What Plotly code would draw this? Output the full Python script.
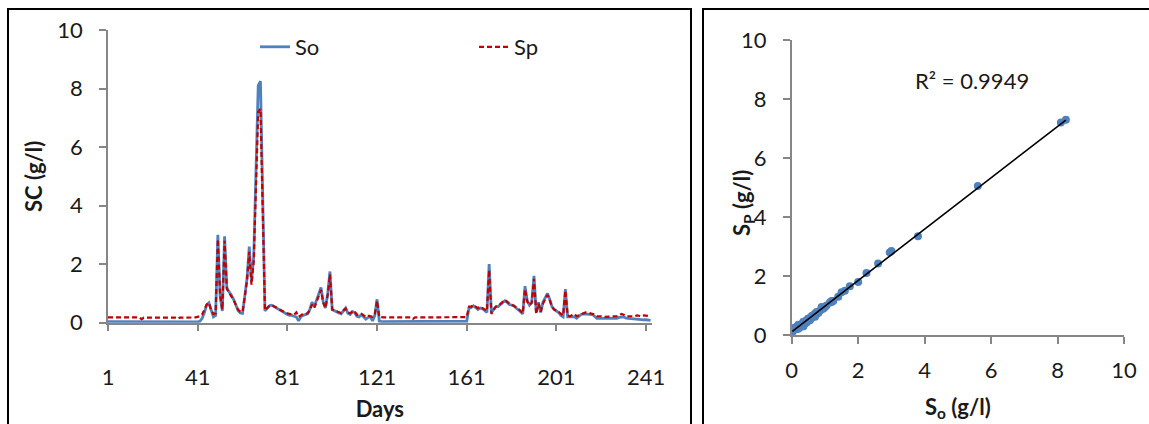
import numpy as np
import plotly.graph_objects as go

# ---- data ----
So = [
    0.04, 0.04, 0.03, 0.03, 0.04, 0.03, 0.03, 0.03, 0.04, 0.04,
    0.03, 0.03, 0.03, 0.04, 0.03, 0.02, 0.03, 0.03, 0.03, 0.03,
    0.03, 0.04, 0.03, 0.03, 0.03, 0.03, 0.03, 0.03, 0.03, 0.03,
    0.03, 0.02, 0.03, 0.03, 0.03, 0.03, 0.03, 0.03, 0.03, 0.03,
    0.03, 0.05, 0.15, 0.35, 0.6, 0.68, 0.4, 0.2, 0.25, 3.0,
    0.9, 0.4, 2.95, 1.2, 1.05, 0.95, 0.8, 0.6, 0.42, 0.33,
    0.32, 0.9, 1.5, 2.6, 1.4, 2.25, 5.6, 8.1, 8.25, 3.8,
    0.4, 0.5, 0.58, 0.6, 0.55, 0.5, 0.45, 0.4, 0.38, 0.32,
    0.28, 0.25, 0.25, 0.22, 0.2, 0.06, 0.2, 0.25, 0.28, 0.3,
    0.45, 0.7, 0.55, 0.75, 0.95, 1.2, 0.7, 0.5, 1.0, 1.75,
    0.45, 0.4, 0.38, 0.33, 0.3, 0.42, 0.5, 0.32, 0.28, 0.38,
    0.35, 0.22, 0.2, 0.28, 0.2, 0.12, 0.18, 0.2, 0.06, 0.25,
    0.8, 0.05, 0.04, 0.04, 0.04, 0.04, 0.04, 0.04, 0.04, 0.04,
    0.04, 0.04, 0.04, 0.04, 0.04, 0.04, 0.04, 0.04, 0.04, 0.04,
    0.04, 0.04, 0.04, 0.04, 0.04, 0.04, 0.04, 0.04, 0.04, 0.04,
    0.04, 0.04, 0.04, 0.05, 0.05, 0.05, 0.05, 0.05, 0.05, 0.05,
    0.05, 0.5, 0.52, 0.58, 0.5, 0.45, 0.5, 0.48, 0.42, 0.35,
    2.0, 0.35, 0.45, 0.55, 0.55, 0.62, 0.7, 0.75, 0.7, 0.62,
    0.6, 0.58, 0.5, 0.45, 0.38, 0.3, 1.25, 0.75, 0.6, 0.7,
    1.6, 0.35, 0.7, 0.35, 0.7, 0.85, 1.0, 0.8, 0.55, 0.45,
    0.4, 0.35, 0.25, 0.2, 1.15, 0.2, 0.2, 0.2, 0.2, 0.15,
    0.22, 0.28, 0.3, 0.3, 0.3, 0.28, 0.28, 0.22, 0.15, 0.15,
    0.15, 0.14, 0.13, 0.13, 0.15, 0.15, 0.15, 0.15, 0.18, 0.2,
    0.2, 0.16, 0.15, 0.15, 0.13, 0.12, 0.12, 0.12, 0.1, 0.1,
    0.1, 0.09, 0.08,
]

Sp = [
    0.18, 0.18, 0.18, 0.18, 0.18, 0.18, 0.17, 0.18, 0.18, 0.18,
    0.18, 0.17, 0.18, 0.18, 0.18, 0.12, 0.17, 0.17, 0.17, 0.17,
    0.17, 0.17, 0.17, 0.17, 0.17, 0.17, 0.17, 0.17, 0.17, 0.17,
    0.17, 0.13, 0.17, 0.17, 0.17, 0.17, 0.16, 0.17, 0.17, 0.18,
    0.2, 0.22, 0.28, 0.45, 0.62, 0.68, 0.42, 0.3, 0.32, 2.85,
    0.95, 0.45, 2.8, 1.15, 1.0, 0.9, 0.78, 0.6, 0.45, 0.38,
    0.37, 0.88, 1.45, 2.42, 1.3, 2.1, 5.05, 7.2, 7.3, 3.35,
    0.42, 0.5, 0.57, 0.6, 0.57, 0.52, 0.47, 0.42, 0.4, 0.35,
    0.32, 0.3, 0.28, 0.27, 0.35, 0.2, 0.25, 0.3, 0.3, 0.32,
    0.42, 0.62, 0.5, 0.72, 0.9, 1.12, 0.68, 0.5, 0.95, 1.65,
    0.45, 0.42, 0.4, 0.35, 0.33, 0.42, 0.48, 0.35, 0.32, 0.38,
    0.4, 0.27, 0.3, 0.3, 0.25, 0.2, 0.24, 0.22, 0.2, 0.3,
    0.75, 0.2, 0.18, 0.18, 0.18, 0.18, 0.18, 0.18, 0.18, 0.18,
    0.18, 0.18, 0.18, 0.18, 0.18, 0.18, 0.13, 0.18, 0.18, 0.18,
    0.18, 0.18, 0.18, 0.18, 0.18, 0.18, 0.18, 0.18, 0.18, 0.18,
    0.18, 0.18, 0.18, 0.19, 0.19, 0.19, 0.19, 0.19, 0.19, 0.19,
    0.19, 0.55, 0.55, 0.6, 0.55, 0.5, 0.55, 0.5, 0.45, 0.4,
    1.8, 0.3, 0.45, 0.55, 0.57, 0.65, 0.7, 0.78, 0.72, 0.65,
    0.62, 0.58, 0.52, 0.48, 0.4, 0.32, 1.15, 0.72, 0.6, 0.68,
    1.5, 0.3, 0.65, 0.38, 0.65, 0.82, 0.95, 0.78, 0.55, 0.45,
    0.42, 0.38, 0.3, 0.25, 1.1, 0.25, 0.22, 0.25, 0.3, 0.22,
    0.25, 0.3, 0.33, 0.35, 0.34, 0.32, 0.3, 0.28, 0.22, 0.23,
    0.22, 0.2, 0.2, 0.2, 0.22, 0.2, 0.22, 0.22, 0.25, 0.3,
    0.27, 0.22, 0.22, 0.22, 0.2, 0.22, 0.25, 0.23, 0.22, 0.25,
    0.24, 0.22, 0.22,
]

days = list(range(1, len(So) + 1))
day_ticks = [1, 41, 81, 121, 161, 201, 241]
value_ticks = [0, 2, 4, 6, 8, 10]
r2_text = "R² = 0.9949"

# ---- layout helpers (pixel -> paper) ----
W, H = 1149, 424
px = lambda x: x / W
py = lambda y: 1 - y / H

FONT = "Lato"
FS = 22
AX_COL = "#868686"
BLUE = "#4F81BD"
RED = "#C00000"
TXT = "#1a1a1a"

fig = go.Figure()

fig.add_trace(go.Scatter(x=days, y=So, mode="lines", name="So",
                         line=dict(color=BLUE, width=2.8),
                         xaxis="x", yaxis="y"))
fig.add_trace(go.Scatter(x=days, y=Sp, mode="lines", name="Sp",
                         line=dict(color=RED, width=2.2, dash="5px,3px"),
                         xaxis="x", yaxis="y"))

fig.add_trace(go.Scatter(x=So, y=Sp, mode="markers", showlegend=False,
                         marker=dict(color=BLUE, size=8, line=dict(width=0)),
                         xaxis="x2", yaxis="y2"))

a, b = np.polyfit(So, Sp, 1)
xl = np.array([min(So), max(So)])
fig.add_trace(go.Scatter(x=xl, y=a * xl + b, mode="lines", showlegend=False,
                         line=dict(color="black", width=1.6),
                         xaxis="x2", yaxis="y2"))

axis_common = dict(showgrid=False, zeroline=False, showline=True,
                   linecolor=AX_COL, linewidth=1.5, ticks="outside",
                   ticklen=7, tickwidth=1.5, tickcolor=AX_COL,
                   automargin=False,
                   tickfont=dict(family=FONT, size=FS, color=TXT))

title_font = dict(family=FONT, size=FS, color=TXT)

fig.update_layout(
    width=W, height=H,
    margin=dict(l=0, r=0, t=0, b=0, autoexpand=False),
    paper_bgcolor="white", plot_bgcolor="white",
    font=dict(family=FONT, size=FS, color=TXT),
    xaxis=dict(domain=[px(108), px(651.7)], range=[1, 243.5],
               tickmode="array", tickvals=day_ticks,
               ticklabelstandoff=27, anchor="y",
               title=dict(text="<b>Days</b>", standoff=13, font=title_font),
               **axis_common),
    yaxis=dict(domain=[py(322.7), py(30)], range=[0, 10],
               tickmode="array", tickvals=value_ticks,
               ticklabelstandoff=12, anchor="x",
               title=dict(text="<b>SC (g/l)</b>", standoff=9, font=title_font),
               **axis_common),
    xaxis2=dict(domain=[px(791.7), px(1124)], range=[0, 10],
                tickmode="array", tickvals=value_ticks,
                ticklabelstandoff=8, anchor="y2",
                title=dict(text="<b>S<sub>o</sub> (g/l)</b>", standoff=17,
                           font=title_font),
                **axis_common),
    yaxis2=dict(domain=[py(335), py(40)], range=[0, 10],
                tickmode="array", tickvals=value_ticks,
                ticklabelstandoff=12, anchor="x2",
                **axis_common),
    legend=dict(orientation="h", x=px(255), y=py(47),
                xanchor="left", yanchor="middle",
                entrywidth=174, entrywidthmode="pixels",
                font=dict(family=FONT, size=FS, color=TXT),
                bgcolor="rgba(0,0,0,0)"),
    showlegend=True,
)

# frames around each panel
fig.add_shape(type="rect", xref="paper", yref="paper",
              x0=px(8), x1=px(691), y0=-0.1, y1=py(9),
              line=dict(color="black", width=2), layer="below")
fig.add_shape(type="rect", xref="paper", yref="paper",
              x0=px(703), x1=px(1160), y0=-0.1, y1=py(9),
              line=dict(color="black", width=2), layer="below")

# right panel y title (overlaps the tick-label column as in the reference)
fig.add_annotation(x=px(743), y=py(203), xref="paper", yref="paper",
                   text="<b>S<sub>P</sub> (g/l)</b>", textangle=-90,
                   showarrow=False, font=title_font)

fig.add_annotation(x=5.42, y=8.64, xref="x2", yref="y2", text=r2_text,
                   showarrow=False, font=dict(family=FONT, size=FS, color=TXT))

fig.write_html("out.html",
               config={"displayModeBar": False},
               post_script="document.body.style.margin='0';document.body.style.padding='0';")
